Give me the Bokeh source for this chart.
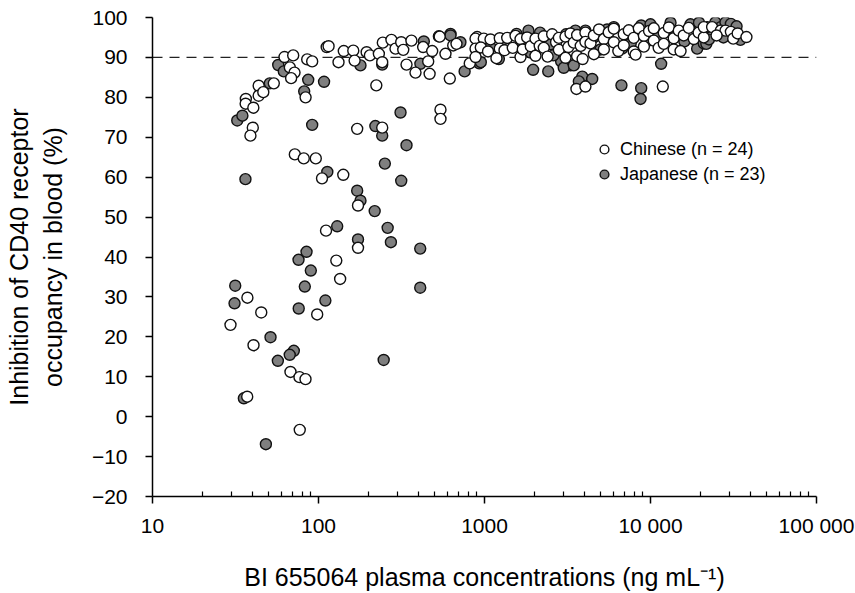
from bokeh.plotting import figure
from bokeh.models import (FixedTicker, Span, Legend, LegendItem, ColumnDataSource, Range1d)
from bokeh.embed import file_html
from bokeh.resources import INLINE

# ---------------- data ----------------
chinese_conc = [
    29.5, 37.3, 45.2, 98.2, 40.6, 67.8, 76.8, 83.5, 37.2, 77.1,
    173, 111, 173, 128, 135,
    36.5, 36.4, 40.5, 43.6, 43.6, 46.5, 53.8, 40.2, 38.9, 62.4, 70.4, 67.2, 71.7, 68.4,
    85.5, 91.6, 83.6, 72, 81.5, 96.3, 105, 141, 112, 115, 132, 142, 162, 165, 195, 204,
    223, 171, 242, 231, 244, 242, 275, 291, 315, 324, 363, 339, 384, 458, 467, 427, 484,
    543, 543, 618, 537, 582, 648, 678, 815, 891, 903,
    883, 883, 883, 990, 950, 1087, 1050, 1236, 1236, 1180, 1370, 1320, 1538, 1480, 1648,
    1648, 1700, 1807, 1900, 2028, 2028, 2150, 2276, 2276, 2400, 2556, 2700, 2805, 2805,
    3076, 3076, 3200, 3296, 3450, 3614, 3614, 3800, 4055, 4055, 3900,
    4351, 4560, 4560, 4900, 5236, 5236, 5600, 6012, 6012, 6400, 6902, 6902, 7400, 7925,
    7925, 8500, 9120, 9120, 9800, 10470, 10470, 11200, 12020, 12020, 12900, 13800, 13800,
    14800, 15850, 15170, 17000, 18230, 19500, 20940, 20940,
    23500, 26500, 28290, 30500, 31500, 33500, 37840, 25000,
    3580, 4055, 11860, 8130,
]
chinese_inhib = [
    23.0, 29.8, 26.1, 25.6, 17.9, 11.2, 9.9, 9.4, 5.0, -3.3,
    52.9, 46.6, 42.3, 39.1, 34.5,
    79.6, 78.4, 77.4, 82.9, 80.4, 81.3, 83.5, 72.4, 70.4, 90.1, 90.5, 87.5, 86.2, 84.8,
    89.5, 89.0, 80.0, 65.7, 64.7, 64.7, 59.7, 60.6, 92.6, 92.8, 88.8, 91.6, 91.7, 89.2, 91.3, 90.5,
    83.0, 72.1, 72.4, 90.9, 93.7, 88.8, 94.4, 92.2, 93.8, 91.9, 94.2, 88.2, 86.2, 89.0, 85.9, 92.6, 91.6,
    76.9, 74.6, 84.7, 95.2, 90.9, 93.0, 93.4, 88.5, 91.9, 95.1,
    94.7, 92.2, 90.1, 94.7, 92.5, 94.5, 91.5, 94.8, 92.2, 89.8, 94.9, 91.8, 95.4, 92.4, 94.6,
    90.1, 92.0, 95.0, 92.8, 94.7, 90.4, 92.9, 95.3, 92.4, 90.2, 95.8, 93.8, 94.9, 91.9,
    95.2, 89.9, 92.6, 96.0, 93.7, 95.6, 90.3, 92.9, 96.2, 93.9, 89.6,
    93.5, 95.5, 90.8, 97.0, 94.6, 92.0, 96.3, 93.8, 97.2, 91.6, 95.8, 93.0, 96.8, 94.9,
    91.5, 97.3, 95.4, 92.7, 96.6, 94.2, 97.3, 92.4, 96.1, 93.4, 97.5, 94.8, 92.0,
    96.7, 95.5, 91.6, 97.4, 94.6, 96.2, 95.0, 97.6,
    97.6, 96.7, 96.7, 96.4, 94.7, 96.0, 95.1, 95.5,
    82.1, 82.7, 82.7, 90.7,
]

japanese_conc = [
    31.5, 31.2, 218, 129.6, 261, 173, 273, 410, 84.7, 75.8, 89.9, 82.7, 410, 110, 76,
    51.4, 71, 67.1, 56.9, 247, 35.5, 48.2,
    32.4, 34.8, 36.3, 57.2, 61.8, 50.9, 86.7, 108, 82.0, 91.6, 179, 242, 220, 242, 312,
    339, 251, 315, 171, 179, 113, 411, 759, 930,
    431, 531, 624, 716, 624,
    1560, 1840, 2160, 3530, 4055, 1087, 1648, 950, 1220, 2896, 3296, 3001, 3450,
    1963, 2421, 3882, 3700, 4454,
    1300, 2500, 3100, 5000, 9500, 16000, 1900, 2600,
    6745, 11220, 14130, 19100, 20940, 5480, 6012, 8790, 10000, 13200, 17400, 19600, 4560, 7600,
    22000, 24600, 26500, 28290, 30500, 21700, 22500, 27500, 34800, 33000,
    6682, 8791, 8710, 11590,
]
japanese_inhib = [
    32.8, 28.4, 51.5, 47.7, 47.3, 44.4, 43.7, 42.1, 41.3, 39.3, 36.6, 32.6, 32.3, 29.1, 27.1,
    19.9, 16.5, 15.5, 14.0, 14.2, 4.6, -6.9,
    74.2, 75.4, 59.5, 88.1, 86.5, 83.5, 84.4, 83.9, 81.5, 73.1, 88.0, 88.2, 72.8, 70.4, 76.2,
    68.0, 63.4, 59.1, 56.6, 54.1, 61.3, 88.4, 86.5, 88.5,
    94.0, 95.3, 95.9, 93.8, 95.5,
    95.9, 96.7, 96.2, 96.7, 96.7, 92.6, 93.0, 88.8, 89.6, 89.0, 88.0, 87.4, 88.0,
    86.9, 86.5, 85.2, 84.0, 84.6,
    94.5, 93.3, 95.8, 92.0, 94.0, 94.0, 91.2, 90.5,
    92.2, 95.5, 96.3, 92.2, 93.5, 97.0, 97.6, 98.0, 98.3, 98.7, 98.3, 98.7, 95.0, 93.5,
    97.6, 98.8, 97.6, 98.8, 98.4, 93.4, 94.5, 95.0, 94.4, 97.8,
    83.0, 82.3, 79.6, 88.4,
]

x_major = [10, 100, 1000, 10000, 100000]
x_minor = [20, 30, 40, 50, 60, 70, 80, 90,
           200, 300, 400, 500, 600, 700, 800, 900,
           2000, 3000, 4000, 5000, 6000, 7000, 8000, 9000,
           20000, 30000, 40000, 50000, 60000, 70000, 80000, 90000]
x_labels = {10: "10", 100: "100", 1000: "1000", 10000: "10 000", 100000: "100 000"}
y_ticks = [-20, -10, 0, 10, 20, 30, 40, 50, 60, 70, 80, 90, 100]
threshold = 90
legend_labels = ["Chinese (n = 24)", "Japanese (n = 23)"]

FONT = "Liberation Sans"

p = figure(width=855, height=593, x_axis_type="log",
           x_range=Range1d(10, 100000), y_range=Range1d(-20, 100),
           output_backend="svg", toolbar_location=None,
           min_border_left=152, min_border_right=39, min_border_top=17, min_border_bottom=96)
p.grid.visible = False
p.outline_line_color = None

src_j = ColumnDataSource(dict(x=japanese_conc, y=japanese_inhib))
src_c = ColumnDataSource(dict(x=chinese_conc, y=chinese_inhib))

span = Span(location=threshold, dimension="width", line_color="#222222",
            line_width=1.4, line_dash="10 7", level="underlay")
p.add_layout(span)

rj = p.scatter("x", "y", source=src_j, size=11, fill_color="#7f7f7f",
               line_color="#111111", line_width=1.4)
rc = p.scatter("x", "y", source=src_c, size=11, fill_color="white",
               line_color="#111111", line_width=1.4)

# axes
xa = p.xaxis[0]
xa.ticker = FixedTicker(ticks=x_major, minor_ticks=x_minor)
xa.major_label_overrides = x_labels
xa.major_tick_in = 0
xa.major_tick_out = 7
xa.minor_tick_in = 5
xa.minor_tick_out = 0
xa.axis_label = "BI 655064 plasma concentrations (ng mL\u207b\u00b9)"
xa.major_label_standoff = 10
xa.axis_label_standoff = 23

ya = p.yaxis[0]
ya.ticker = FixedTicker(ticks=y_ticks, minor_ticks=[])
ya.major_tick_in = 0
ya.major_tick_out = 7
ya.minor_tick_line_color = None
ya.axis_label = "Inhibition of CD40 receptor\noccupancy in blood (%)"
ya.major_label_standoff = 18
ya.axis_label_standoff = 22

for ax in (xa, ya):
    ax.axis_line_color = "black"
    ax.axis_line_width = 1.5
    ax.major_tick_line_color = "black"
    ax.major_tick_line_width = 1.5
    ax.minor_tick_line_color = "black" if ax is xa else None
    ax.minor_tick_line_width = 1.2
    ax.major_label_text_font = FONT
    ax.major_label_text_font_size = "21px"
    ax.major_label_text_color = "black"
    ax.axis_label_text_font = FONT
    ax.axis_label_text_font_size = "25px"
    ax.axis_label_text_font_style = "normal"
    ax.axis_label_text_color = "black"

legend = Legend(items=[LegendItem(label=legend_labels[0], renderers=[rc]),
                       LegendItem(label=legend_labels[1], renderers=[rj])],
                location=(441, 311), glyph_width=22, glyph_height=22,
                label_standoff=5, padding=0, spacing=3,
                border_line_color=None, background_fill_alpha=0,
                label_text_font=FONT, label_text_font_size="18px",
                label_text_color="black")
p.add_layout(legend)

open("out.html", "w").write(file_html(p, INLINE))
